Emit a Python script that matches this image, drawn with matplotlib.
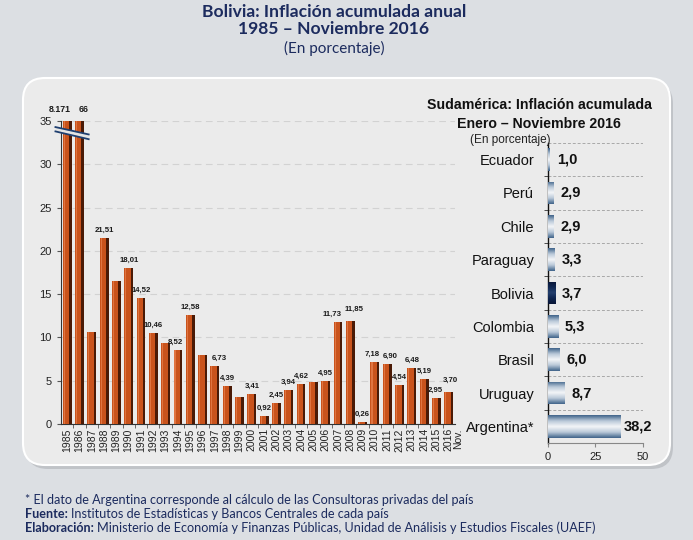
import matplotlib
matplotlib.use("Agg")
import matplotlib.pyplot as plt
import numpy as np
from matplotlib.patches import FancyBboxPatch, Polygon
from matplotlib.colors import LinearSegmentedColormap

# ---------------- data ----------------
years = ['1985', '1986', '1987', '1988', '1989', '1990', '1991', '1992', '1993', '1994',
         '1995', '1996', '1997', '1998', '1999', '2000', '2001', '2002', '2003', '2004',
         '2005', '2006', '2007', '2008', '2009', '2010', '2011', '2012', '2013', '2014',
         '2015', '2016\nNov.']
bolivia = [8170.5, 65.96, 10.66, 21.51, 16.56, 18.01, 14.52, 10.46, 9.31, 8.52,
           12.58, 7.95, 6.73, 4.39, 3.13, 3.41, 0.92, 2.45, 3.94, 4.62,
           4.91, 4.95, 11.73, 11.85, 0.26, 7.18, 6.90, 4.54, 6.48, 5.19,
           2.95, 3.70]
bar_labels = ['8.171', '66', '', '21,51', '', '18,01', '14,52', '10,46', '', '8,52',
              '12,58', '', '6,73', '4,39', '', '3,41', '0,92', '2,45', '3,94', '4,62',
              '', '4,95', '11,73', '11,85', '0,26', '7,18', '6,90', '4,54', '6,48', '5,19',
              '2,95', '3,70']
y_cap = 35

countries = ['Ecuador', 'Perú', 'Chile', 'Paraguay', 'Bolivia', 'Colombia', 'Brasil',
             'Uruguay', 'Argentina*']
sa_values = [1.0, 2.9, 2.9, 3.3, 3.7, 5.3, 6.0, 8.7, 38.2]
sa_labels = ['1,0', '2,9', '2,9', '3,3', '3,7', '5,3', '6,0', '8,7', '38,2']

title_lines = ['Bolivia: Inflación acumulada anual', '1985 – Noviembre 2016']
subtitle = '(En porcentaje)'
sa_title = 'Sudamérica: Inflación acumulada\nEnero – Noviembre 2016'

NAVY = '#1c2b5e'
PAGE = '#dcdfe3'

fig = plt.figure(figsize=(6.93, 5.40), dpi=100)
fig.patch.set_facecolor(PAGE)

# panel with shadow (inches)
shadow = FancyBboxPatch((0.26, 0.71), 6.47, 3.87, boxstyle="round,pad=0,rounding_size=0.22",
                        transform=fig.dpi_scale_trans, facecolor='#b9bcc1', edgecolor='none',
                        alpha=0.8, zorder=-3)
fig.patches.append(shadow)
panel = FancyBboxPatch((0.23, 0.75), 6.47, 3.87, boxstyle="round,pad=0,rounding_size=0.22",
                       transform=fig.dpi_scale_trans, facecolor='#ebebeb', edgecolor='white',
                       linewidth=1.5, zorder=-2)
fig.patches.append(panel)

# titles
fig.text(0.482, 0.978, title_lines[0], ha='center', va='center', fontsize=12.6,
         fontweight='bold', color=NAVY, family='Lato')
fig.text(0.482, 0.946, title_lines[1], ha='center', va='center', fontsize=12.6,
         fontweight='bold', color=NAVY, family='Lato')
fig.text(0.482, 0.910, subtitle, ha='center', va='center', fontsize=11,
         color=NAVY, family='Lato')

# ---------------- left chart ----------------
ax = fig.add_axes([0.088, 0.2148, 0.5685, 0.5611])
ax.set_facecolor('none')
x = np.arange(len(years))
vals = np.minimum(np.array(bolivia), y_cap)
w = 0.72
ax.bar(x, vals, width=w, color='#c9531c', edgecolor='none', zorder=3)
ax.bar(x - w * 0.33, vals, width=w * 0.12, color='#e07440', edgecolor='none', zorder=3)
ax.bar(x + w * 0.36, vals, width=w * 0.28, color='#4a1a06', edgecolor='none', zorder=3)

# label nudges (points): horizontal, vertical
nudge = {0: (-5, 5), 1: (3, 5), 12: (3, 3), 9: (-2, 3), 22: (-4, 3), 23: (3, 6),
         25: (-2, 3), 26: (2, 3), 30: (-1, 3), 31: (1, 6)}
for i, (xi, v, lab) in enumerate(zip(x, vals, bar_labels)):
    if lab:
        big = v >= y_cap
        dx, dy = nudge.get(i, (0, 3))
        ax.annotate(lab, (xi, v), xytext=(dx, dy), textcoords='offset points',
                    ha='center', va='bottom', fontsize=6.3 if big else 5.6,
                    fontweight='bold', color='#1a1a1a', family='Liberation Sans',
                    annotation_clip=False)

ax.set_xlim(-0.5, len(years) - 0.5)
ax.set_ylim(0, y_cap)
ax.set_yticks(np.arange(0, 36, 5))
ax.yaxis.grid(True, linestyle=(0, (6, 4)), color='#d2d2d2', linewidth=0.8, zorder=0)
ax.set_axisbelow(True)
ax.set_xticks(x)
main_labels = [y.split('\n')[0] for y in years]
ax.set_xticklabels(main_labels, rotation=90, fontsize=7.5, family='Liberation Sans',
                   color='#222222')
# second line of a label (e.g. "Nov.") drawn beside its tick
for xi, y in zip(x, years):
    parts = y.split('\n')
    if len(parts) > 1:
        ax.annotate(parts[1], (xi, 0), xytext=(7, -3), textcoords='offset points',
                    rotation=90, ha='center', va='top', fontsize=7.5,
                    family='Liberation Sans', color='#222222', annotation_clip=False)
ax.set_xticks(x[:-1] + 0.5, minor=True)
ax.tick_params(axis='x', which='major', length=0, pad=3)
ax.tick_params(axis='x', which='minor', length=3, color='#555555')
ax.tick_params(axis='y', length=3, labelsize=8, color='#555555', labelcolor='#222222')
for lab in ax.get_yticklabels():
    lab.set_family('Liberation Sans')
for s in ['top', 'right']:
    ax.spines[s].set_visible(False)
ax.spines['left'].set_color('#333333')
ax.spines['bottom'].set_color('#333333')
ax.spines['left'].set_linewidth(0.8)
ax.spines['bottom'].set_linewidth(0.8)

# axis break marks across the two capped bars
bx = np.array([-0.95, 1.75])
y1 = np.array([34.3, 33.45])
y2 = np.array([33.8, 32.9])
ax.add_patch(Polygon([[bx[0], y1[0]], [bx[1], y1[1]], [bx[1], y2[1]], [bx[0], y2[0]]],
                     closed=True, facecolor='#e4e4e4', edgecolor='none', zorder=4,
                     clip_on=False))
ax.plot(bx, y1, color='#1f3f70', lw=1.3, zorder=5, clip_on=False)
ax.plot(bx, y2, color='#1f3f70', lw=1.3, zorder=5, clip_on=False)

# ---------------- right chart ----------------
ax2 = fig.add_axes([0.7908, 0.1796, 0.137, 0.5556])
ax2.set_facecolor('none')
yy = np.arange(len(countries))
h = 0.68
bars = ax2.barh(yy, sa_values, height=h, color='none', edgecolor='none', zorder=3)

grad = np.abs(np.linspace(-1, 1, 64))[:, None]
cmap_blue = LinearSegmentedColormap.from_list('b', ['#f4f6f8', '#b9c8d8', '#3f6389'])
cmap_dark = LinearSegmentedColormap.from_list('d', ['#24406e', '#0f2550', '#081536'])
for i, (b, c) in enumerate(zip(bars, countries)):
    cm = cmap_dark if c == 'Bolivia' else cmap_blue
    im = ax2.imshow(grad, extent=[0, sa_values[i], yy[i] + h / 2, yy[i] - h / 2],
                    aspect='auto', cmap=cm, vmin=0, vmax=1, zorder=3,
                    interpolation='bicubic')
    im.set_clip_path(b)
ax2.set_xlim(0, 50)
ax2.set_ylim(len(countries) - 0.5, -0.5)

for yi, v, lab in zip(yy, sa_values, sa_labels):
    off = 2 if v > 30 else 5
    ax2.annotate(lab, (v, yi), xytext=(off, 0), textcoords='offset points',
                 ha='left', va='center', fontsize=10.5, fontweight='bold',
                 color='#111111', family='Liberation Sans', annotation_clip=False)

ax2.set_yticks(yy)
ax2.set_yticklabels(countries, fontsize=10.5, family='Liberation Sans', color='#111111')
ax2.set_yticks(np.arange(len(countries) - 1) + 0.5, minor=True)
ax2.tick_params(axis='y', which='major', length=0, pad=10)
ax2.tick_params(axis='y', which='minor', length=3, color='#333333')
ax2.set_xticks([0, 25, 50])
ax2.tick_params(axis='x', labelsize=8, length=3, color='#888888', labelcolor='#222222')
for lab in ax2.get_xticklabels():
    lab.set_family('Liberation Sans')
for yb in np.arange(len(countries)) - 0.5:
    ax2.axhline(yb, color='#a8a8a8', lw=0.7, linestyle=(0, (3, 2)), zorder=1)
for s in ['top', 'right']:
    ax2.spines[s].set_visible(False)
ax2.spines['left'].set_color('#111111')
ax2.spines['left'].set_linewidth(1.0)
ax2.spines['bottom'].set_color('#888888')

fig.text(0.778, 0.788, sa_title, ha='center', va='center', fontsize=10.2, fontweight='bold',
         color='#111111', family='Liberation Sans', linespacing=1.4)
fig.text(0.737, 0.740, subtitle, ha='center', va='center', fontsize=8.5,
         color='#222222', family='Liberation Sans')

# ---------------- footnotes ----------------
fx = 0.036
fs = 9.1
fig.text(fx, 0.074, '* El dato de Argentina corresponde al cálculo de las Consultoras privadas del país',
         fontsize=fs, color=NAVY, family='Lato', va='center')
t1 = fig.text(fx, 0.048, 'Fuente:', fontsize=fs, color=NAVY, family='Lato',
              fontweight='bold', va='center')
fig.canvas.draw()
r = fig.canvas.get_renderer()
bb = t1.get_window_extent(r)
fig.text((bb.x1 + 3) / fig.bbox.width, 0.048,
         'Institutos de Estadísticas y Bancos Centrales de cada país',
         fontsize=fs, color=NAVY, family='Lato', va='center')
t2 = fig.text(fx, 0.022, 'Elaboración:', fontsize=fs, color=NAVY, family='Lato',
              fontweight='bold', va='center')
bb2 = t2.get_window_extent(r)
fig.text((bb2.x1 + 3) / fig.bbox.width, 0.022,
         'Ministerio de Economía y Finanzas Públicas, Unidad de Análisis y Estudios Fiscales (UAEF)',
         fontsize=fs, color=NAVY, family='Lato', va='center')

fig.savefig('out.png', dpi=100, facecolor=fig.get_facecolor())
